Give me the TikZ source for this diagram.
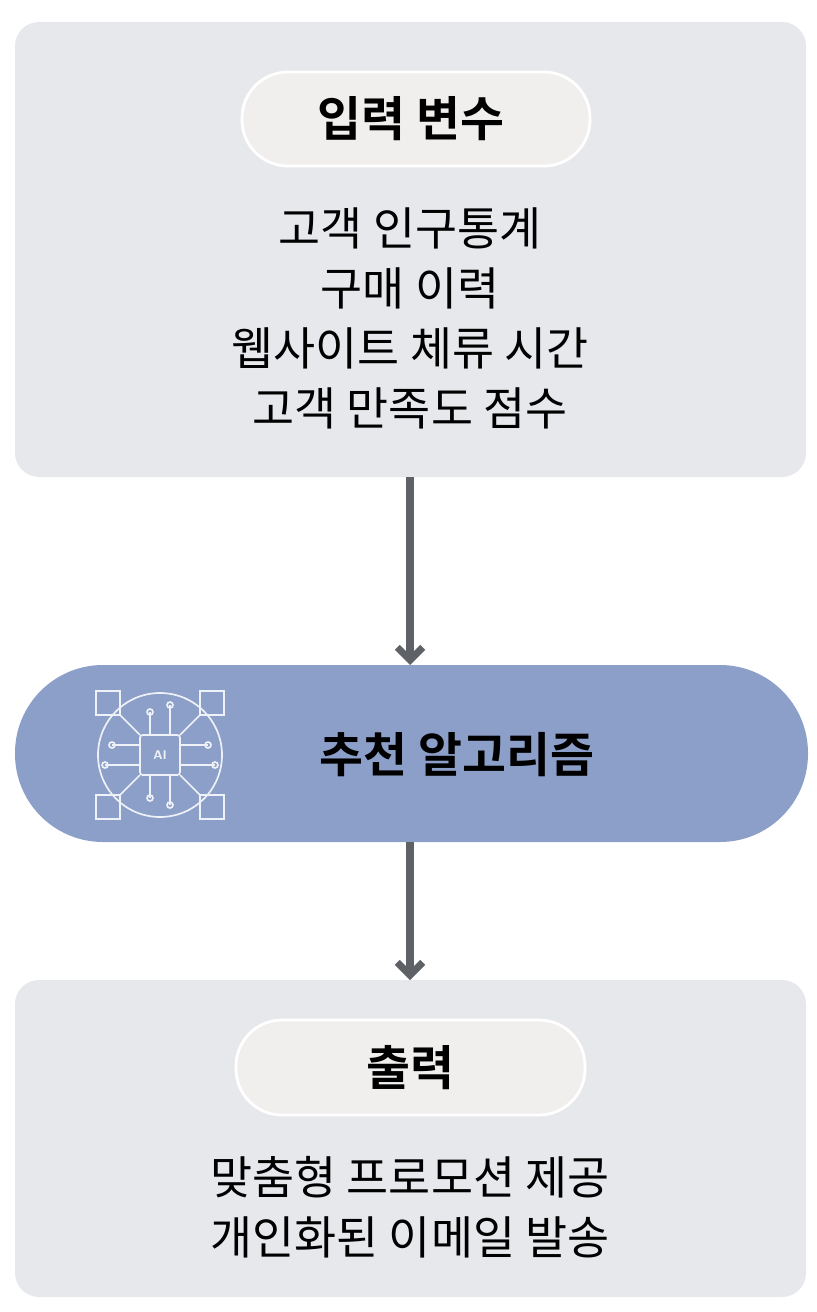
\documentclass[tikz,border=0pt]{standalone}
\usepackage{fontspec}
\newfontfamily\kr{Noto Sans CJK KR}
\newfontfamily\krb{Noto Sans CJK KR Bold}
\definecolor{panel}{HTML}{E6E8EC}
\definecolor{pillbg}{HTML}{F1EFED}
\definecolor{algo}{HTML}{8C9FC8}
\definecolor{arrowc}{HTML}{5E6266}
\usetikzlibrary{arrows.meta}
\begin{document}
\begin{tikzpicture}[x=0.025cm,y=-0.025cm,
  panel/.style={fill=panel, rounded corners=0.6cm},
  title/.style={fill=pillbg, draw=white, line width=2pt, rounded corners=1.15cm},
  body/.style={font=\kr\fontsize{32.5}{42.7}\selectfont, align=center},
  head/.style={font=\krb\fontsize{34}{40}\selectfont},
  flow/.style={draw=arrowc, line width=5pt, -{Straight Barb[length=9pt,width=18pt,line width=5pt]}},
  icon/.style={draw=white!85!algo, line width=1.2pt}]
  \useasboundingbox (0,0) rectangle (816,1312);
  % input panel
  \fill[panel] (15,22) rectangle (806,477);
  \coordinate (inbot) at (410,477);
  \draw[title] (242,72) rectangle (590,166);
  \node[head] (intitle) at (411,119) {입력 변수};
  \node[body] (inlist) at (410,318) {고객 인구통계\\구매 이력\\웹사이트 체류 시간\\고객 만족도 점수};
  % algorithm
  \fill[algo, rounded corners=2.2cm] (15,665) rectangle (808,842);
  \coordinate (algtop) at (410,665);
  \coordinate (algbot) at (410,842);
  \node[head] (algo) at (457,755) {추천 알고리즘};
  % icon
  \begin{scope}[icon]
    \draw (160,755) circle (62);
    \draw[rounded corners=2pt] (140,735) rectangle (180,775);
    \node[text=white!85!algo, font=\sffamily\bfseries\small] (ai) at (160,755) {AI};
    \foreach \dx in {-1,1} \foreach \dy in {-1,1} {
      \draw (160+\dx*52,755+\dy*52) ++(-12,-12) rectangle ++(24,24);
      \draw (160+\dx*20,755+\dy*20) -- (160+\dx*40,755+\dy*40);
    }
    \foreach \a/\b/\c in {150/735/712, 170/735/705, 150/775/798, 170/775/805}
      {\draw (\a,\b) -- (\a,\c); \draw (\a,\c) circle (3);}
    \foreach \b/\a/\c in {745/140/112, 765/140/105, 745/180/208, 765/180/215}
      {\draw (\a,\b) -- (\c,\b); \draw (\c,\b) circle (3);}
  \end{scope}
  % output panel
  \fill[panel] (15,980) rectangle (806,1297);
  \coordinate (outtop) at (410,980);
  \draw[title] (236,1020) rectangle (585,1115);
  \node[head] (outtitle) at (410,1068) {출력};
  \node[body] (outlist) at (410,1207) {맞춤형 프로모션 제공\\개인화된 이메일 발송};
  % arrows
  \draw[flow] (inbot) -- (algtop);
  \draw[flow] (algbot) -- (outtop);
\end{tikzpicture}
\end{document}
